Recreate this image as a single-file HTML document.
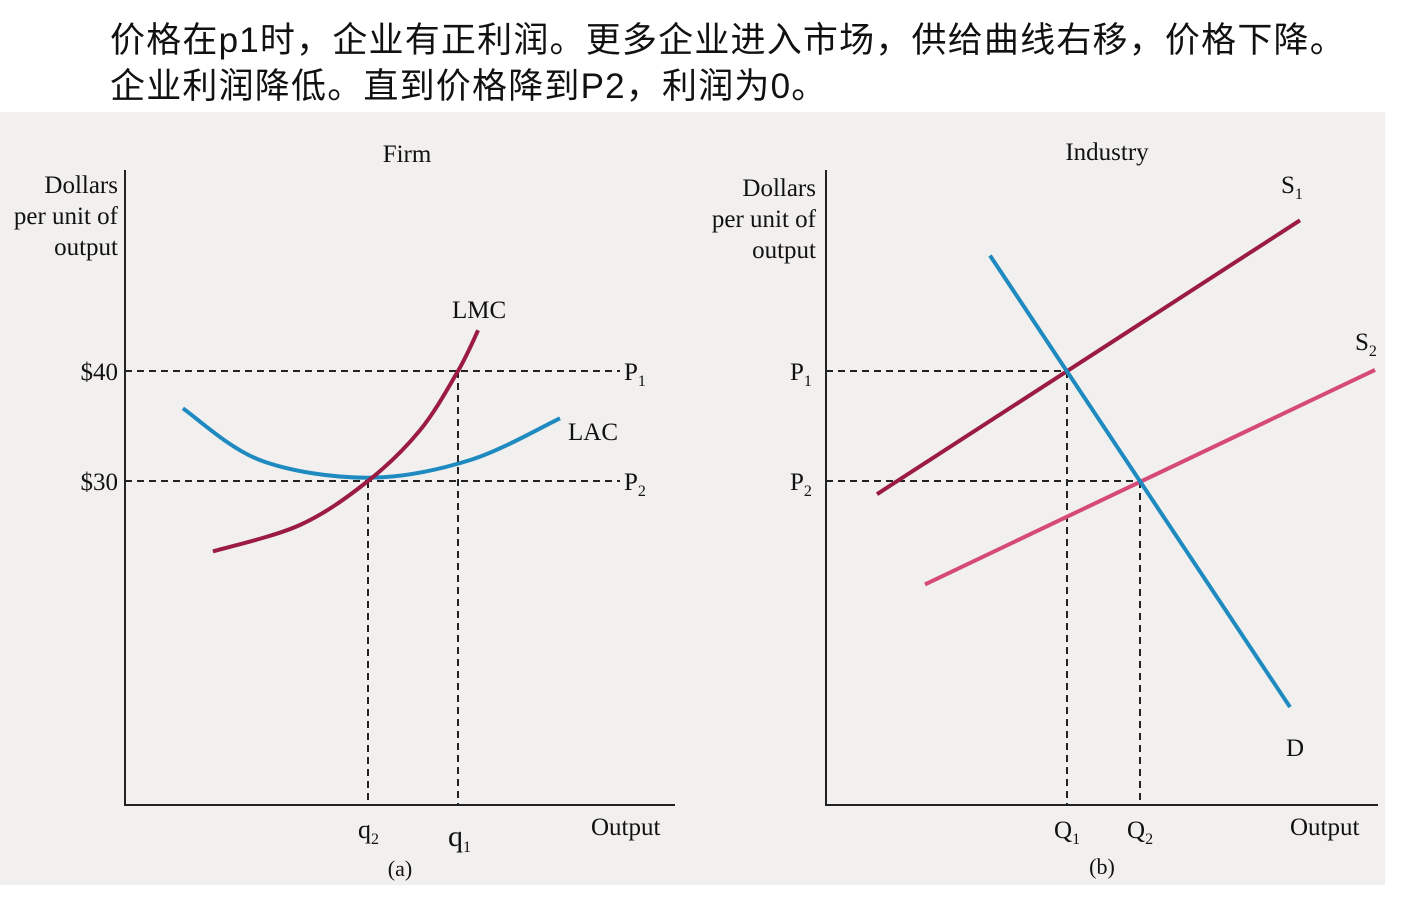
<!DOCTYPE html>
<html><head><meta charset="utf-8"><style>
body{margin:0;width:1412px;height:900px;background:#fff;overflow:hidden;font-family:"Liberation Serif",serif}
#hdr{position:absolute;left:110px;top:18px;font:35px/46px "Liberation Sans","Noto Sans CJK SC",sans-serif;letter-spacing:1.2px;color:#111}
svg{position:absolute;left:0;top:0}
</style></head><body>
<div id="hdr">价格在p1时，企业有正利润。更多企业进入市场，供给曲线右移，价格下降。<br>企业利润降低。直到价格降到P2，利润为0。</div>
<svg id="c" width="1412" height="900"></svg>
<script>
const prices=[40,30];
const firmQ=[8.1,11.1]; // q2, q1
const industryQ=[24.1,31.4]; // Q1, Q2
const lmcQ=[2.93,5.83,8.1,9.83,11.1,11.77], lmcP=[23.6,26,30,34.6,40,43.7];
const lacQ=[1.93,4.5,8.1,11.5,14.5], lacP=[36.6,31.9,30.3,31.9,35.7];
const s1Q=[5.1,47.4], s1P=[28.8,53.7];
const s2Q=[9.9,54.9], s2P=[20.6,40.1];
const dQ=[16.4,46.4], dP=[50.5,9.45];
const ns="http://www.w3.org/2000/svg", svg=document.getElementById('c');
const yS=p=>371+(40-p)*11, fx=q=>125+q*30, ix=q=>826+q*10;
function el(t,a,name,txt){const e=document.createElementNS(ns,t);for(const k in a)e.setAttribute(k,a[k]);


if(txt!==undefined)e.textContent=txt;svg.appendChild(e);return e;}
el('rect',{x:0,y:112,width:1385,height:773,fill:'#f1f0ee'},'scan-background');
function curve(xs,ys,sx,col,name,smooth){let d='';
const pts=xs.map((q,i)=>[sx(q),yS(ys[i])]);
if(!smooth){d='M'+pts.map(p=>p.join(',')).join(' L');}
else{d='M'+pts[0];for(let i=1;i<pts.length;i++){const p0=pts[i-2]||pts[i-1],p1=pts[i-1],p2=pts[i],p3=pts[i+1]||p2;
d+=` C${p1[0]+(p2[0]-p0[0])/6},${p1[1]+(p2[1]-p0[1])/6} ${p2[0]-(p3[0]-p1[0])/6},${p2[1]-(p3[1]-p1[1])/6} ${p2[0]},${p2[1]}`;}}
el('path',{d,fill:'none',stroke:col,'stroke-width':4},name);}
el('path',{d:'M125,170 V805 H675',fill:'none',stroke:'#222','stroke-width':2},'firm-axes');
el('path',{d:'M826,170 V805 H1378',fill:'none',stroke:'#222','stroke-width':2},'industry-axes');
const dash={stroke:'#222','stroke-width':2,'stroke-dasharray':'7,5',fill:'none'};
prices.forEach((p,i)=>{el('line',Object.assign({x1:125,x2:620,y1:yS(p),y2:yS(p)},dash),'firm-price-line-'+(i+1));
el('line',Object.assign({x1:826,x2:ix(industryQ[i]),y1:yS(p),y2:yS(p)},dash),'industry-price-line-'+(i+1));});
firmQ.forEach((q,i)=>el('line',Object.assign({x1:fx(q),x2:fx(q),y1:yS(prices[1-i]),y2:805},dash),'firm-q-line-'+(i+1)));
industryQ.forEach((q,i)=>el('line',Object.assign({x1:ix(q),x2:ix(q),y1:yS(prices[i]),y2:805},dash),'industry-q-line-'+(i+1)));
curve(lacQ,lacP,fx,'#1f8ac0','lac-curve',true);
curve(lmcQ,lmcP,fx,'#9b1b42','lmc-curve',true);
curve(s2Q,s2P,ix,'#d64a78','s2-curve');
curve(s1Q,s1P,ix,'#9b1b42','s1-curve');
curve(dQ,dP,ix,'#1f8ac0','demand-curve');
function t(x,y,s,name,size,anchor,sub){const e=el('text',{x,y,'font-size':size||26,fill:'#111','text-anchor':anchor||'start','font-family':'"Liberation Serif",serif'},name);
e.textContent=s;if(sub){const ts=document.createElementNS(ns,'tspan');ts.setAttribute('font-size',16);ts.setAttribute('dy',6);ts.textContent=sub;e.appendChild(ts);}}
t(407,162,'Firm','firm-title',25,'middle');t(1107,160,'Industry','industry-title',25,'middle');
t(118,193,'Dollars','firm-y-title-1',25,'end');t(118,224,'per unit of','firm-y-title-2',25,'end');t(118,255,'output','firm-y-title-3',25,'end');
t(816,196,'Dollars','ind-y-title-1',25,'end');t(816,227,'per unit of','ind-y-title-2',25,'end');t(816,258,'output','ind-y-title-3',25,'end');
t(118,380,'$'+prices[0],'tick-40',25,'end');t(118,490,'$'+prices[1],'tick-30',25,'end');
t(452,318,'LMC','lmc-label',25);t(568,440,'LAC','lac-label',25);
t(624,380,'P','firm-p1-label',25,'start','1');t(624,490,'P','firm-p2-label',25,'start','2');
t(790,380,'P','ind-p1-label',25,'start','1');t(790,490,'P','ind-p2-label',25,'start','2');
t(1281,193,'S','s1-label',25,'start','1');t(1355,350,'S','s2-label',25,'start','2');
t(1286,756,'D','d-label',25);
t(fx(firmQ[0])-10,838,'q','q2-label',26,'start','2');t(fx(firmQ[1])-10,846,'q','q1-label',30,'start','1');
t(591,835,'Output','firm-x-title',25);t(1290,835,'Output','ind-x-title',25);
t(ix(industryQ[0])-13,838,'Q','Q1-label',25,'start','1');t(ix(industryQ[1])-13,838,'Q','Q2-label',25,'start','2');
t(400,876,'(a)','panel-a-label',22,'middle');t(1102,874,'(b)','panel-b-label',22,'middle');
</script></body></html>
